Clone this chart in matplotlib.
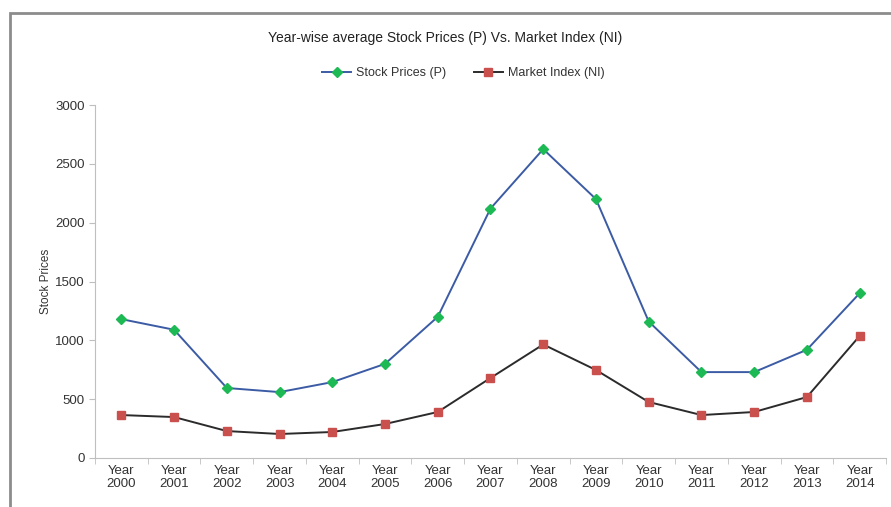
import matplotlib.pyplot as plt
from matplotlib.patches import Rectangle
from matplotlib import font_manager

years = [f"Year\n{y}" for y in range(2000, 2015)]
stock_prices = [1180, 1090, 595, 560, 645, 800, 1200, 2120, 2625, 2200, 1160, 730, 730, 920, 1400]
market_index = [365, 348, 229, 204, 221, 289, 391, 680, 965, 748, 476, 365, 391, 518, 1037]

names = {f.name for f in font_manager.fontManager.ttflist}
fam = ['Liberation Sans Narrow'] if 'Liberation Sans Narrow' in names else ['Liberation Sans']
plt.rcParams['font.family'] = fam + ['DejaVu Sans']

fig = plt.figure(figsize=(8.91, 5.07), dpi=100)
ax = fig.add_axes([95 / 891, 1 - 458 / 507, 791 / 891, 353 / 507])

x = list(range(len(years)))
ax.plot(x, stock_prices, color='#3b5ba5', lw=1.4, marker='D', ms=5,
        mfc='#1db954', mec='#1db954', label='Stock Prices (P)')
ax.plot(x, market_index, color='#2b2b2b', lw=1.4, marker='s', ms=6,
        mfc='#c9504d', mec='#c9504d', label='Market Index (NI)')

ax.set_xlim(-0.5, len(years) - 0.5)
ax.set_ylim(0, 3000)
ax.set_yticks(range(0, 3001, 500))
ax.set_xticks(x)
ax.set_xticklabels(years, fontsize=9.5, color='#333333', linespacing=1.1)
ax.set_xticks([i - 0.5 for i in range(len(years) + 1)], minor=True)
ax.tick_params(axis='x', which='major', length=0, pad=5)
ax.tick_params(axis='x', which='minor', length=4, color='#bfbfbf')
ax.tick_params(axis='y', length=4, color='#bfbfbf', labelsize=9.5, labelcolor='#333333')

for s in ['top', 'right']:
    ax.spines[s].set_visible(False)
for s in ['left', 'bottom']:
    ax.spines[s].set_color('#bfbfbf')

ax.set_ylabel('Stock Prices', fontsize=8.5, color='#333333', labelpad=2)

fig.text(0.5, 1 - 38 / 507, 'Year-wise average Stock Prices (P) Vs. Market Index (NI)',
         ha='center', va='center', fontsize=10, color='#222222')
fig.legend(loc='center', bbox_to_anchor=(0.52, 1 - 73 / 507), ncol=2, frameon=False,
           fontsize=9, handlelength=2.3, handletextpad=0.4, columnspacing=2.2,
           labelcolor='#333333')

fig.add_artist(Rectangle((10 / 891, -0.2), 1.5, 1.2 - 13 / 507, transform=fig.transFigure,
                         fill=False, edgecolor='#8c8c8c', lw=2, clip_on=False))

fig.savefig('out.png', dpi=100)
